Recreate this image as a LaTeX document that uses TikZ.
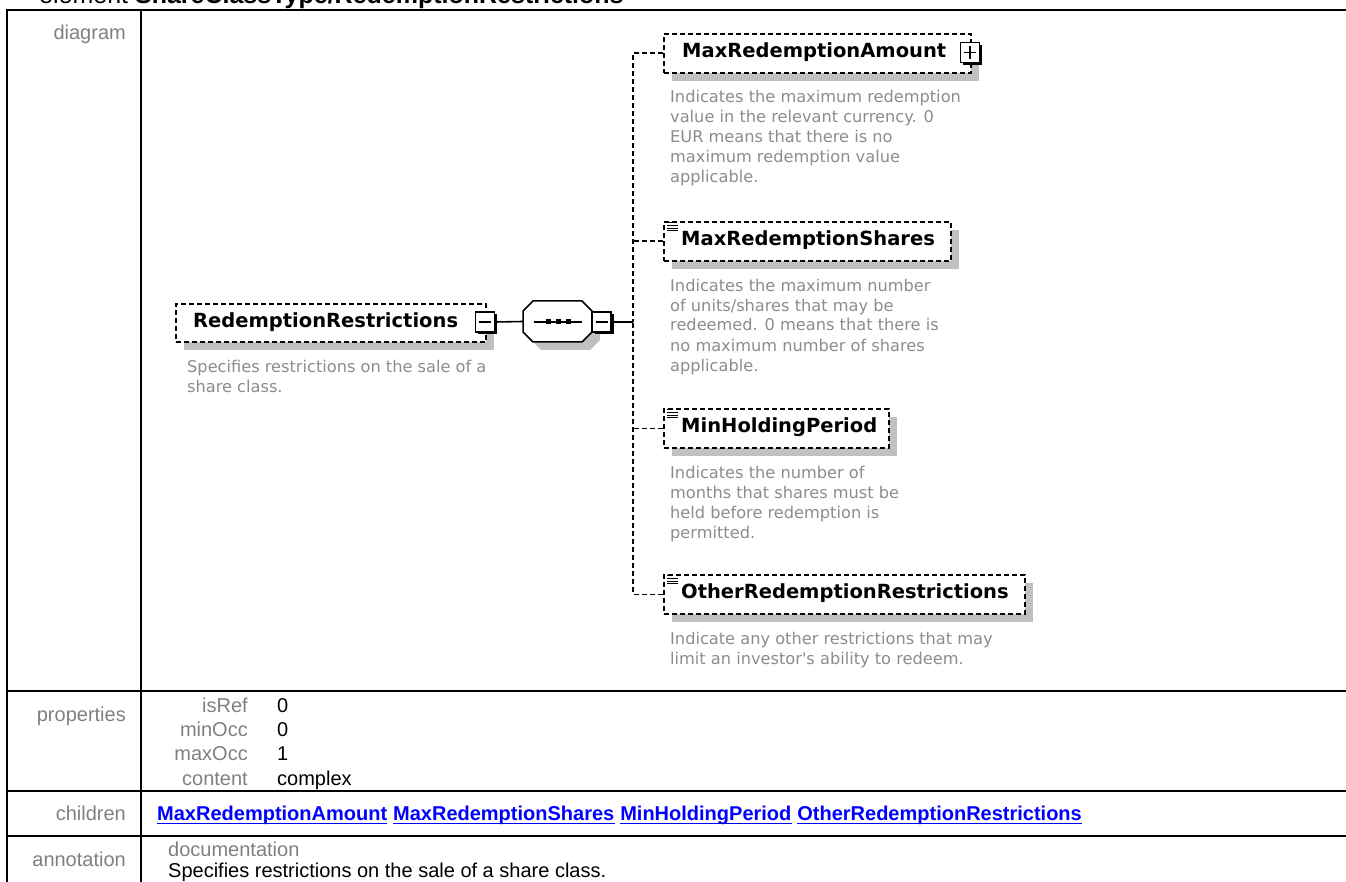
\documentclass[tikz,border=0pt]{standalone}
\usepackage{fontspec}
\setmainfont{Liberation Sans}
\newfontfamily\diafont{DejaVu Sans}
\usetikzlibrary{shadows}
\definecolor{shadowgray}{RGB}{192,192,192}
\definecolor{labelgray}{RGB}{128,128,128}
\definecolor{descgray}{RGB}{140,140,140}
\definecolor{linkblue}{RGB}{0,0,255}
\tikzset{
  tablerule/.style={line width=2pt, black},
  lbl/.style={anchor=base east, inner sep=0, text=labelgray, font=\fontsize{20}{24}\selectfont},
  val/.style={anchor=base west, inner sep=0, font=\fontsize{20}{24}\selectfont},
  link/.style={anchor=base west, inner sep=0, text=linkblue, font=\fontsize{20}{24}\selectfont\bfseries},
  elbox/.style={draw, dash pattern=on 5pt off 3pt, line width=1.7pt, fill=white, inner sep=0, anchor=north west,
    drop shadow={shadow xshift=8pt, shadow yshift=-8pt, fill=shadowgray, opacity=1}},
  eltext/.style={anchor=base west, inner sep=0, font=\diafont\bfseries\fontsize{19.5}{23}\selectfont},
  desc/.style={anchor=base west, inner sep=0, align=left, text=descgray, font=\diafont\fontsize{16.2}{20}\selectfont},
  xbox/.style={draw, line width=1.5pt, fill=white, minimum width=19pt, minimum height=20pt, inner sep=0,
    drop shadow={shadow xshift=2.5pt, shadow yshift=-2.5pt, fill=black, opacity=1}},
  minusbox/.style={xbox, path picture={\draw[line width=1.4pt] ([xshift=3.5pt]path picture bounding box.west) -- ([xshift=-3.5pt]path picture bounding box.east);}},
  plusbox/.style={xbox, path picture={\draw[line width=1.4pt] ([xshift=3.5pt]path picture bounding box.west) -- ([xshift=-3.5pt]path picture bounding box.east) ([yshift=-3.5pt]path picture bounding box.north) -- ([yshift=3.5pt]path picture bounding box.south);}},
  dashline/.style={dash pattern=on 5pt off 3pt, line width=1.7pt},
  conn/.style={line width=1.6pt},
  listicon/.pic={\draw[line width=1pt] (0,0)--(6,0) (0,2.8)--(11,2.8) (0,5.6)--(11,5.6) (0,8.4)--(11,8.4);}
}
\begin{document}
\begin{tikzpicture}[x=1pt, y=-1pt]
\useasboundingbox (0,0) rectangle (1346,882);
\clip (0,0) rectangle (1346,882);
% title (clipped at top)
\node[anchor=base west, inner sep=0, font=\fontsize{25}{29}\selectfont] (title) at (39,4) {element \textbf{ShareClassType/RedemptionRestrictions}};
% table rules
\draw[tablerule] (1360,10.5) -- (6.5,10.5) -- (6.5,900);
\draw[tablerule] (140.5,10.5) -- (140.5,900);
\draw[tablerule] (6.5,691) -- (1360,691);
\draw[tablerule] (6.5,791) -- (1360,791);
\draw[tablerule] (6.5,836) -- (1360,836);
% row labels
\node[lbl] (ldiagram) at (126,40) {diagram};
\node[lbl] (lprops) at (126,721) {properties};
\node[lbl] (lchildren) at (126,820.5) {children};
\node[lbl] (lannot) at (126,866) {annotation};
% properties
\node[lbl] (pisref) at (248,712) {isRef};
\node[val] (visref) at (277,712) {0};
\node[lbl] (pminocc) at (248,736.3) {minOcc};
\node[val] (vminocc) at (277,736.3) {0};
\node[lbl] (pmaxocc) at (248,760.6) {maxOcc};
\node[val] (vmaxocc) at (277,760.6) {1};
\node[lbl] (pcontent) at (248,785) {content};
\node[val] (vcontent) at (277,785) {complex};
% children links
\node[link] (c1) at (157,820.5) {MaxRedemptionAmount};
\node[link] (c2) at ([xshift=5.56pt]c1.base east) {MaxRedemptionShares};
\node[link] (c3) at ([xshift=5.56pt]c2.base east) {MinHoldingPeriod};
\node[link] (c4) at ([xshift=5.56pt]c3.base east) {OtherRedemptionRestrictions};
\foreach \n in {c1,c2,c3,c4}
  \draw[linkblue, line width=1.5pt] ([yshift=-2.8pt]\n.base west) -- ([yshift=-2.8pt]\n.base east);
% annotation
\node[val, text=labelgray] (doc) at (168,856) {documentation};
\node[val] (doctext) at (168,877) {Specifies restrictions on the sale of a share class.};

% ---------- diagram ----------
% element boxes
\node[elbox, minimum width=310pt, minimum height=38pt] (rr) at (175,303) {};
\node[elbox, minimum width=307pt, minimum height=39pt] (amount) at (663,33) {};
\node[elbox, minimum width=287pt, minimum height=39pt] (shares) at (663,221) {};
\node[elbox, minimum width=225pt, minimum height=39pt] (holding) at (663,408) {};
\node[elbox, minimum width=361pt, minimum height=39pt] (other) at (663,574) {};
% element names
\node[eltext] (rrt) at (193,327.5) {RedemptionRestrictions};
\node[eltext] (amountt) at (682,57.5) {MaxRedemptionAmount};
\node[eltext] (sharest) at (681,245.5) {MaxRedemptionShares};
\node[eltext] (holdingt) at (681,432.5) {MinHoldingPeriod};
\node[eltext] (othert) at (681,598.5) {OtherRedemptionRestrictions};
% simple-content icons
\pic at ([shift={(4,1.5)}]shares.north west) {listicon};
\pic at ([shift={(4,1.5)}]holding.north west) {listicon};
\pic at ([shift={(4,1.5)}]other.north west) {listicon};
% descriptions (anchor is the baseline of the last line)
\node[desc] (rrd) at (187,392) {Specifies restrictions on the sale of a\\share class.};
\node[desc] (amountd) at (670,183) {Indicates the maximum redemption\\value in the relevant currency. 0\\EUR means that there is no\\maximum redemption value\\applicable.};
\node[desc] (sharesd) at (670,371) {Indicates the maximum number\\of units/shares that may be\\redeemed. 0 means that there is\\no maximum number of shares\\applicable.};
\node[desc] (holdingd) at (670,538) {Indicates the number of\\months that shares must be\\held before redemption is\\permitted.};
\node[desc] (otherd) at (670,664) {Indicate any other restrictions that may\\limit an investor's ability to redeem.};
% sequence compositor
\node[inner sep=0, minimum width=69pt, minimum height=41pt] (seq) at (557.5,321.5) {};
\fill[shadowgray, shift={(8,8)}] (533,301) -- (582,301) -- (592,311) -- (592,332) -- (582,342) -- (533,342) -- (523,332) -- (523,311) -- cycle;
\draw[line width=1.5pt, fill=white] (533,301) -- (582,301) -- (592,311) -- (592,332) -- (582,342) -- (533,342) -- (523,332) -- (523,311) -- cycle;
\draw[conn] (534,322) -- (582,322);
\fill (545.5,319.5) rectangle +(5,5);
\fill (555.5,319.5) rectangle +(5,5);
\fill (565.5,319.5) rectangle +(5,5);
% expand boxes
\node[minusbox] (rrx) at (485,322) {};
\node[minusbox] (seqx) at (601.5,322) {};
\node[plusbox] (amountx) at (970,52.5) {};
% connectors
\coordinate (bus) at (633,322);
\draw[conn] (rrx.east) -- (seq.west);
\draw[conn] (seqx.east) -- (bus);
\draw[dashline] (amount.west) -| (bus);
\draw[dashline] (other.west) -| (bus);
\draw[dashline] (shares.west) -- (shares.west -| bus);
\draw[dashline] (holding.west) -- (holding.west -| bus);
\end{tikzpicture}
\end{document}
